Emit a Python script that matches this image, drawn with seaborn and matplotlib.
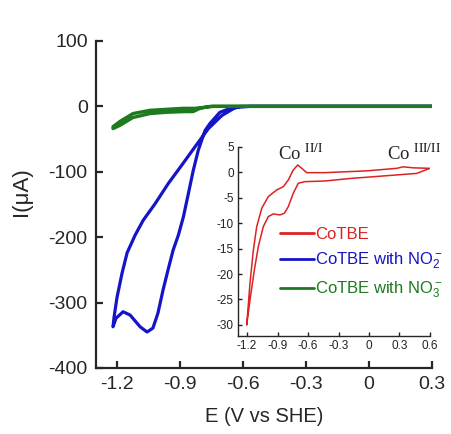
import matplotlib
matplotlib.use("Agg")
import pandas as pd
import matplotlib.pyplot as plt
import seaborn as sns

# main panel: CoTBE with nitrite (blue) and nitrate (green), I in uA
E_no2 = [0.3, -0.329, -0.614, -0.646, -0.701, -0.765, -0.829, -0.892, -0.956, -1.019,
         -1.075, -1.114, -1.152, -1.176, -1.200, -1.214, -1.219,
         -1.205, -1.171, -1.138, -1.090, -1.057, -1.029, -1.005, -0.981, -0.957, -0.933,
         -0.908, -0.884, -0.860, -0.837, -0.813, -0.781, -0.757, -0.710, -0.652, -0.567, 0.3]
I_no2 = [0, 0, 0, -3.5, -14, -34, -62, -90, -118, -149,
         -174, -197, -224, -255, -292, -322, -337,
         -324, -314, -319, -337, -345, -339, -316, -281, -250, -220,
         -197, -169, -133, -98, -67, -37, -26, -9, -2, 0, 0]

E_no3 = [0.3, -0.614, -0.743, -0.829, -0.886, -1.043, -1.124, -1.186, -1.219,
         -1.219, -1.186, -1.124, -1.043, -0.962, -0.876, -0.838, -0.805, -0.757, -0.676, 0.3]
I_no3 = [0, 0, 0, -3, -3, -6, -11, -23, -31,
         -34, -29, -17, -11, -9, -8, -8, -3, 0, 0, 0]

# inset: CoTBE alone
E_cotbe = [-1.203, -1.171, -1.138, -1.105, -1.055, -0.991, -0.908, -0.843, -0.794, -0.745,
           -0.701, -0.662, -0.613, -0.433, -0.023, 0.272, 0.337, 0.435, 0.600,
           0.469, 0.272, -0.187, -0.433, -0.630, -0.696, -0.745, -0.794, -0.833, -0.876,
           -0.941, -0.991, -1.040, -1.089, -1.128, -1.171, -1.203]
I_cotbe = [-30.0, -21.8, -15.3, -10.7, -7.05, -4.77, -3.45, -2.81, -1.49, 0.48,
           1.46, 0.81, -0.05, -0.05, 0.3, 0.8, 1.1, 0.9, 0.8,
           -0.2, -0.5, -1.2, -1.69, -1.82, -2.14, -4.10, -6.74, -8.04, -8.37,
           -8.17, -8.70, -10.67, -14.6, -19.2, -25.1, -30.0]

main_xticks = [-1.2, -0.9, -0.6, -0.3, 0, 0.3]
main_xlabels = ["-1.2", "-0.9", "-0.6", "-0.3", "0", "0.3"]
main_yticks = [100, 0, -100, -200, -300, -400]
inset_xticks = [-1.2, -0.9, -0.6, -0.3, 0, 0.3, 0.6]
inset_xlabels = ["-1.2", "-0.9", "-0.6", "-0.3", "0", "0.3", "0.6"]
inset_yticks = [5, 0, -5, -10, -15, -20, -25, -30]

labels = ["CoTBE", "CoTBE with NO$_2^-$", "CoTBE with NO$_3^-$"]
colors = ["#dd2222", "#1414c8", "#1e7a1e"]

sns.set_style("ticks")
plt.rcParams["font.family"] = ["Liberation Sans", "DejaVu Sans"]
plt.rcParams["axes.unicode_minus"] = False
plt.rcParams["mathtext.fontset"] = "custom"
plt.rcParams["mathtext.rm"] = "Liberation Sans"
plt.rcParams["mathtext.it"] = "Liberation Sans"
plt.rcParams["lines.solid_joinstyle"] = "round"

fig = plt.figure(figsize=(4.51, 4.34), dpi=100)
ax = fig.add_axes([0.2129, 0.1521, 0.745, 0.7535])

sns.lineplot(data=pd.DataFrame({"E": E_no2, "I": I_no2}), x="E", y="I", sort=False,
             estimator=None, color=colors[1], lw=2.3, ax=ax)
sns.lineplot(data=pd.DataFrame({"E": E_no3, "I": I_no3}), x="E", y="I", sort=False,
             estimator=None, color=colors[2], lw=2.4, ax=ax)

ax.set_xlim(-1.3, 0.3)
ax.set_ylim(-400, 100)
ax.set_xticks(main_xticks, main_xlabels)
ax.set_yticks(main_yticks)
ax.tick_params(direction="in", length=5, width=1.6, labelsize=14, pad=6)
for s in ["left", "bottom"]:
    ax.spines[s].set_linewidth(1.6)
sns.despine(ax=ax)
ax.set_xlabel("E (V vs SHE)", fontsize=14.5)
ax.set_ylabel("I(\u03bcA)", fontsize=16)
ax.xaxis.set_label_coords(0.5, -0.12)
ax.yaxis.set_label_coords(-0.19, 0.54)

# inset
ax2 = fig.add_axes([0.5277, 0.2258, 0.4257, 0.4355])
ax2.patch.set_alpha(0)
sns.lineplot(data=pd.DataFrame({"E": E_cotbe, "I": I_cotbe}), x="E", y="I", sort=False,
             estimator=None, color=colors[0], lw=1.1, ax=ax2)
ax2.set_xlim(-1.289, 0.6)
ax2.set_ylim(-32.2, 5)
ax2.set_xticks(inset_xticks, inset_xlabels)
ax2.set_yticks(inset_yticks)
ax2.tick_params(direction="in", length=3, width=1, labelsize=8.5, pad=3, colors="#222222")
for s in ["left", "bottom"]:
    ax2.spines[s].set_linewidth(1)
sns.despine(ax=ax2)
ax2.set_xlabel("")
ax2.set_ylabel("")

ax2.text(-0.895, 2.4, "Co $^{\\mathrm{II/I}}$", family="Liberation Serif",
         math_fontfamily="stix", fontsize=13.5, va="baseline")
ax2.text(0.177, 2.4, "Co $^{\\mathrm{III/II}}$", family="Liberation Serif",
         math_fontfamily="stix", fontsize=13.5, va="baseline")

handles = [ax2.lines[0], ax.lines[0], ax.lines[1]]
leg = ax2.legend(handles, labels, loc="upper left", bbox_to_anchor=(0.22, 0.575),
                 frameon=False, fontsize=12, handlelength=2.0, handletextpad=0.1,
                 labelspacing=0.5, borderpad=0, borderaxespad=0, labelcolor="linecolor")
for h in leg.get_lines():
    h.set_linewidth(2)

fig.savefig("out.png", dpi=100)
